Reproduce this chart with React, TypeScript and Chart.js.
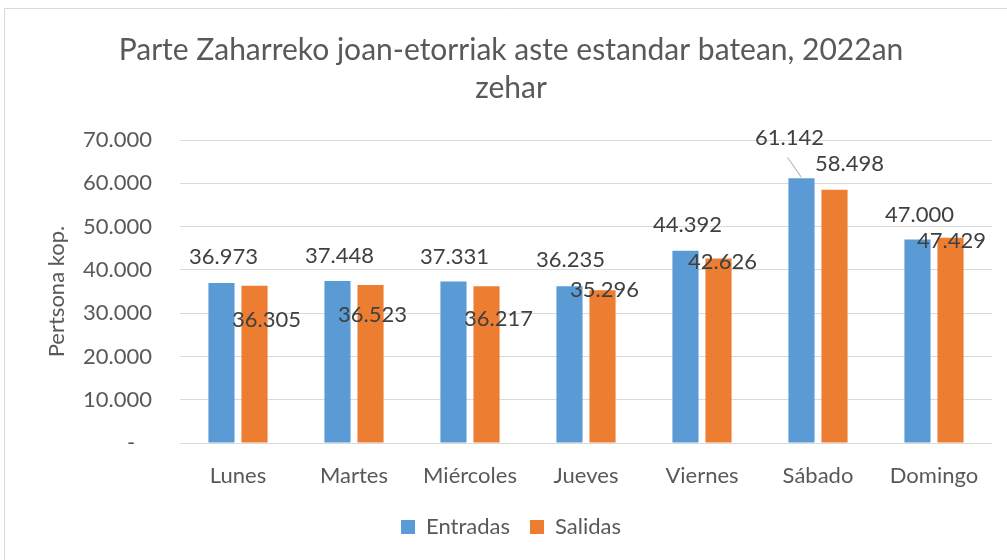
import React, { useEffect, useRef } from "react";
import { Chart, registerables } from "chart.js";

Chart.register(...registerables);

const TITLE_LINES = ["Parte Zaharreko joan-etorriak aste estandar batean, 2022an", "zehar"];
const DAYS = ["Lunes", "Martes", "Miércoles", "Jueves", "Viernes", "Sábado", "Domingo"];
const ENTRADAS = [36973, 37448, 37331, 36235, 44392, 61142, 47000];
const SALIDAS = [36305, 36523, 36217, 35296, 42626, 58498, 47429];
const Y_TITLE = "Pertsona kop.";

// manual data-label offsets (px) relative to bar top centre, as placed in the original
const ENTRADAS_LABEL_OFFSETS = [[2, -26], [2, -25], [1, -25], [1, -26], [2, -26], [-12, -40], [2, -25]];
const SALIDAS_LABEL_OFFSETS = [[12, 34], [2, 30], [12, 33], [2, 0], [4, 3], [15, -26], [1, 3]];
const LEADER_LINES = [[5], []]; // dataset index -> data indexes with leader lines

const FONT = "Lato, 'Noto Sans', sans-serif";
const TEXT = "#595959";
const GRID = "#d9d9d9";

const fmt = (v: number) => String(Math.round(v)).replace(/\B(?=(\d{3})+(?!\d))/g, ".");

const framePlugin = {
  id: "frame",
  beforeDraw(chart: any) {
    const ctx = chart.ctx;
    ctx.save();
    ctx.fillStyle = "#ffffff";
    ctx.fillRect(0, 0, chart.width, chart.height);
    ctx.strokeStyle = GRID;
    ctx.lineWidth = 1;
    ctx.beginPath();
    ctx.moveTo(4.5, chart.height);
    ctx.lineTo(4.5, 8.5);
    ctx.lineTo(chart.width, 8.5);
    ctx.stroke();
    ctx.restore();
  },
};

const labelsPlugin = {
  id: "barLabels",
  afterDatasetsDraw(chart: any) {
    const ctx = chart.ctx;
    const offsets = [ENTRADAS_LABEL_OFFSETS, SALIDAS_LABEL_OFFSETS];
    ctx.save();
    ctx.font = `22px ${FONT}`;
    ctx.fillStyle = "#404040";
    ctx.textAlign = "center";
    ctx.textBaseline = "middle";
    chart.data.datasets.forEach((ds: any, di: number) => {
      const meta = chart.getDatasetMeta(di);
      meta.data.forEach((bar: any, i: number) => {
        const [dx, dy] = offsets[di][i];
        const lx = bar.x + dx;
        const ly = bar.y + dy;
        if ((LEADER_LINES[di] || []).includes(i)) {
          ctx.save();
          ctx.strokeStyle = "#a6a6a6";
          ctx.lineWidth = 1;
          ctx.beginPath();
          ctx.moveTo(bar.x, bar.y - 1);
          ctx.lineTo(lx - 2, ly + 19);
          ctx.stroke();
          ctx.restore();
        }
        ctx.fillText(fmt(ds.data[i]), lx, ly);
      });
    });
    ctx.restore();
  },
};

export default function App() {
  const ref = useRef<HTMLCanvasElement | null>(null);

  useEffect(() => {
    if (!ref.current) return;
    const chart = new Chart(ref.current, {
      type: "bar",
      data: {
        labels: DAYS,
        datasets: [
          {
            label: "Entradas",
            data: ENTRADAS,
            backgroundColor: "#5B9BD5",
            barPercentage: 0.79,
            categoryPercentage: 0.57,
          },
          {
            label: "Salidas",
            data: SALIDAS,
            backgroundColor: "#ED7D31",
            barPercentage: 0.79,
            categoryPercentage: 0.57,
          },
        ],
      },
      options: {
        responsive: false,
        animation: false,
        layout: { padding: { top: 0, left: 30, right: 15, bottom: 12 } },
        plugins: {
          title: {
            display: true,
            text: TITLE_LINES,
            color: TEXT,
            font: { family: FONT, size: 30, weight: "normal", lineHeight: 1.267 },
            padding: { top: 31, bottom: 33 },
          },
          legend: {
            display: true,
            position: "bottom",
            labels: {
              color: TEXT,
              font: { family: FONT, size: 22 },
              boxWidth: 14,
              boxHeight: 14,
              padding: 20,
            },
          },
          tooltip: { enabled: false },
        },
        scales: {
          x: {
            grid: { display: false, drawTicks: false },
            border: { display: false },
            ticks: { color: TEXT, font: { family: FONT, size: 22 }, padding: 20, maxRotation: 0 },
            afterFit: (s: any) => {
              s.height = 53;
            },
          },
          y: {
            min: 0,
            max: 70000,
            grid: { color: GRID, lineWidth: 1, drawTicks: false },
            border: { display: false },
            ticks: {
              stepSize: 10000,
              color: TEXT,
              font: { family: FONT, size: 22 },
              padding: 28,
              callback: (v: any) => (Number(v) === 0 ? "-   " : fmt(Number(v))),
            },
            title: {
              display: true,
              text: Y_TITLE,
              color: TEXT,
              font: { family: FONT, size: 22 },
              padding: { top: 14, bottom: 0 },
            },
            afterFit: (s: any) => {
              s.width = 150;
            },
          },
        },
      },
      plugins: [framePlugin, labelsPlugin],
    });
    return () => chart.destroy();
  }, []);

  return (
    <div style={{ position: "absolute", left: 0, top: 0, width: 1007, height: 560, background: "#fff" }}>
      <canvas ref={ref} width={1007} height={560} />
    </div>
  );
}
